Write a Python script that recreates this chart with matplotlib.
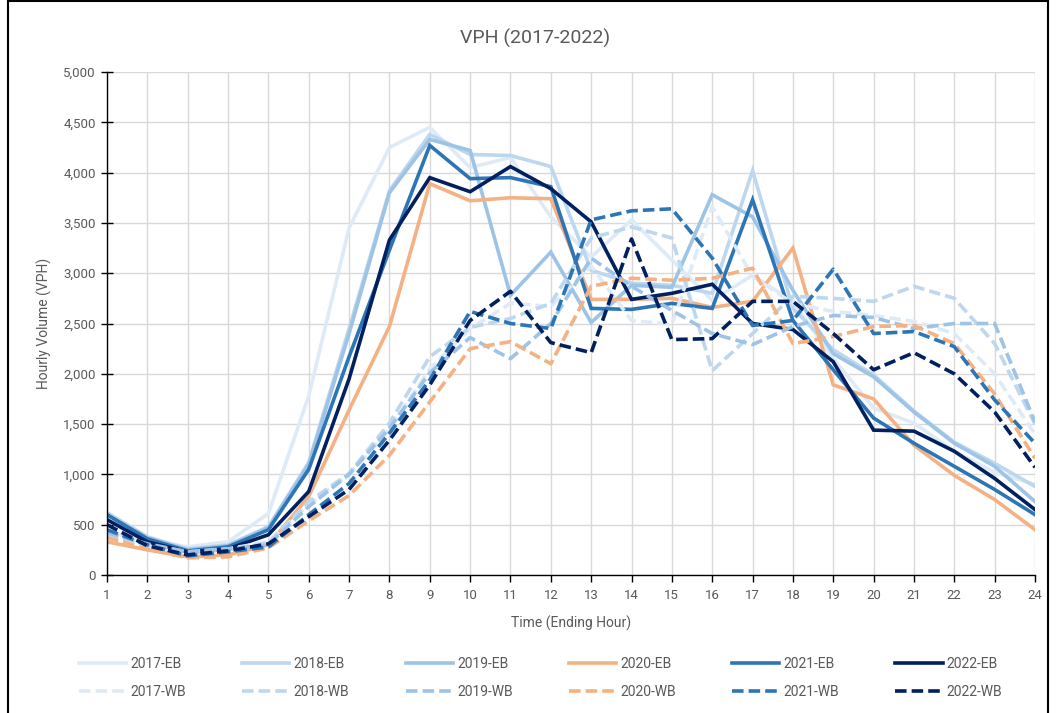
import matplotlib
matplotlib.use("Agg")
import matplotlib.pyplot as plt
from matplotlib.patches import Rectangle
from matplotlib.ticker import FuncFormatter, MultipleLocator

plt.rcParams["font.family"] = ["Roboto", "DejaVu Sans"]

hours = list(range(1, 25))
years = ["2017", "2018", "2019", "2020", "2021", "2022"]
colors = ["#deebf7", "#bdd7ee", "#9dc3e6", "#f4b183", "#2e75b6", "#002060"]

# ---- eastbound volumes (VPH) ----
eb_2017 = [430, 340, 280, 330, 610, 1780, 3450, 4250, 4450, 4050, 4150, 3560,
           3160, 3530, 3130, 2730, 2980, 2720, 2150, 1660, 1510, 1230, 1020, 900]
eb_2018 = [620, 380, 260, 300, 480, 1120, 2450, 3820, 4380, 4180, 4170, 4060,
           3030, 2900, 2880, 2800, 4020, 2650, 2240, 1990, 1630, 1320, 1110, 880]
eb_2019 = [600, 370, 250, 290, 470, 1100, 2400, 3800, 4330, 4220, 2780, 3210,
           2510, 2880, 2860, 3780, 3560, 2830, 2200, 1970, 1620, 1310, 1080, 730]
eb_2020 = [330, 250, 180, 200, 300, 780, 1640, 2470, 3890, 3720, 3750, 3740,
           2740, 2740, 2750, 2660, 2720, 3250, 1890, 1750, 1290, 990, 750, 450]
eb_2021 = [600, 360, 240, 280, 450, 1050, 2170, 3230, 4270, 3940, 3950, 3860,
           2650, 2640, 2700, 2650, 3730, 2530, 2040, 1560, 1310, 1080, 850, 600]
eb_2022 = [550, 330, 230, 260, 400, 830, 1950, 3330, 3950, 3810, 4060, 3840,
           3510, 2740, 2800, 2890, 2500, 2440, 2120, 1440, 1430, 1230, 960, 650]

# ---- westbound volumes (VPH) ----
wb_2017 = [380, 300, 230, 260, 330, 700, 1000, 1450, 2050, 2450, 2700, 2670,
           3070, 2530, 2490, 3660, 2970, 2700, 2620, 2580, 2520, 2400, 2000, 1400]
wb_2018 = [400, 300, 220, 250, 320, 730, 1010, 1510, 2170, 2460, 2550, 2700,
           3350, 3460, 3350, 2030, 2400, 2770, 2750, 2720, 2870, 2750, 2300, 1500]
wb_2019 = [420, 310, 230, 260, 300, 680, 1000, 1460, 2010, 2360, 2150, 2500,
           3150, 2870, 2630, 2400, 2290, 2470, 2580, 2560, 2450, 2500, 2500, 1520]
wb_2020 = [370, 260, 170, 180, 270, 540, 790, 1190, 1720, 2250, 2320, 2100,
           2870, 2950, 2930, 2950, 3050, 2300, 2370, 2470, 2480, 2300, 1800, 1160]
wb_2021 = [450, 300, 190, 230, 280, 600, 910, 1410, 1940, 2620, 2500, 2450,
           3530, 3620, 3640, 3150, 2480, 2530, 3040, 2400, 2420, 2270, 1740, 1310]
wb_2022 = [500, 290, 200, 240, 310, 580, 850, 1340, 1890, 2530, 2820, 2310,
           2210, 3340, 2340, 2350, 2720, 2720, 2400, 2040, 2210, 2000, 1620, 1070]

eb = [eb_2017, eb_2018, eb_2019, eb_2020, eb_2021, eb_2022]
wb = [wb_2017, wb_2018, wb_2019, wb_2020, wb_2021, wb_2022]

fig = plt.figure(figsize=(10.56, 7.13), dpi=100)
ax = fig.add_axes([107 / 1056, 1 - 575 / 713, (1035 - 107) / 1056, (575 - 72) / 713])

lines = {}
for y, c, vals in zip(years, colors, eb):
    lines[y + "-EB"], = ax.plot(hours, vals, color=c, lw=2.6, label=y + "-EB",
                                solid_joinstyle="miter")
for y, c, vals in zip(years, colors, wb):
    lines[y + "-WB"], = ax.plot(hours, vals, color=c, lw=2.6, label=y + "-WB",
                                dashes=(3.2, 1.4))

ax.set_xlim(1, 24)
ax.set_ylim(0, 5000)
ax.set_xticks(hours)
ax.yaxis.set_major_locator(MultipleLocator(500))
ax.yaxis.set_major_formatter(FuncFormatter(lambda v, p: f"{int(v):,}"))
ax.grid(True, color="#d9d9d9", lw=1.0)
ax.set_axisbelow(True)
for s in ["top", "right"]:
    ax.spines[s].set_visible(False)
for s in ["left", "bottom"]:
    ax.spines[s].set_color("black")
    ax.spines[s].set_linewidth(1.0)
ax.tick_params(axis="y", direction="inout", length=8, width=1, colors="black",
               labelcolor="#595959", labelsize=9.5, pad=4)
ax.tick_params(axis="x", direction="out", length=5, width=1, colors="black",
               labelcolor="#595959", labelsize=9.5, pad=5)

ax.set_xlabel("Time (Ending Hour)", color="#595959", fontsize=10, labelpad=10)
ax.set_ylabel("Hourly Volume (VPH)", color="#595959", fontsize=10, labelpad=8)
fig.text(0.507, 1 - 38 / 713, "VPH (2017-2022)", ha="center", va="center",
         color="#595959", fontsize=14)

order = []
for y in years:
    order += [y + "-EB", y + "-WB"]
leg = fig.legend([lines[k] for k in order], order, loc="center",
                 bbox_to_anchor=(0.512, 1 - 678 / 713), ncol=6, frameon=False,
                 fontsize=10, handlelength=3.4, handletextpad=0.3,
                 columnspacing=4.05, labelspacing=1.0)
for t in leg.get_texts():
    t.set_color("#595959")

fig.patches.append(Rectangle((8 / 1056, -0.01), 1040 / 1056, 1.008,
                             transform=fig.transFigure, fill=False,
                             edgecolor="black", lw=1.5))

fig.savefig("out.png", dpi=100)
